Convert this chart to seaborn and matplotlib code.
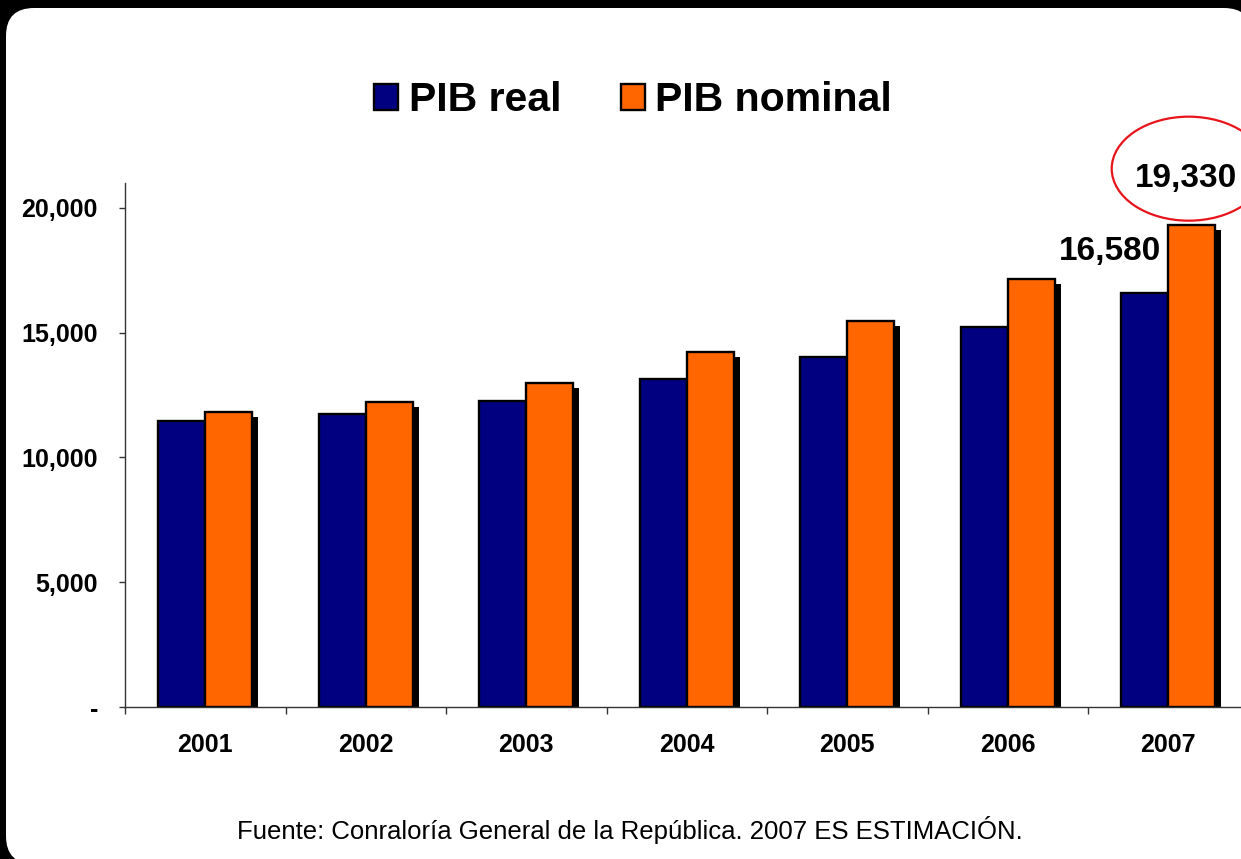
import numpy as np
import pandas as pd
import matplotlib
matplotlib.use('Agg')
import matplotlib.pyplot as plt
import seaborn as sns
from matplotlib.patches import FancyBboxPatch, Ellipse, Rectangle, Patch
from matplotlib.transforms import IdentityTransform, offset_copy

# data
years = ['2001', '2002', '2003', '2004', '2005', '2006', '2007']
pib_real = [11450, 11740, 12250, 13130, 14020, 15220, 16580]
pib_nominal = [11830, 12220, 12970, 14230, 15470, 17150, 19330]
series = ['PIB real', 'PIB nominal']
colors = ['#000080', '#FF6600']
y_ticks = [0, 5000, 10000, 15000, 20000]
y_tick_labels = ['-', '5,000', '10,000', '15,000', '20,000']
footer = 'Fuente: Conraloría General de la República. 2007 ES ESTIMACIÓN.'

df = pd.DataFrame({
    'year': years * 2,
    'value': pib_real + pib_nominal,
    'serie': [series[0]] * len(years) + [series[1]] * len(years),
})

sns.set_theme(style='white')
plt.rcParams['font.family'] = ['Liberation Sans', 'DejaVu Sans']
plt.rcParams['text.color'] = 'black'
plt.rcParams['xtick.color'] = 'black'
plt.rcParams['ytick.color'] = 'black'

W, H = 1241, 859
fig = plt.figure(figsize=(W / 100, H / 100), dpi=100, facecolor='black')

# white rounded panel on black background
panel = FancyBboxPatch((6, -5), 1246, 856, boxstyle='round,pad=0,rounding_size=28',
                       transform=IdentityTransform(), fc='white', ec='none', zorder=-5)
fig.add_artist(panel)

ax = fig.add_axes([125 / W, 152 / H, 1123.5 / W, 524 / H])
ax.set_facecolor('white')

sns.barplot(data=df, x='year', y='value', hue='serie', palette=colors, width=0.585,
            saturation=1, edgecolor='black', linewidth=1.7, ax=ax)
ax.get_legend().remove()

ax.set_xlim(-0.5, 6.5)
ax.set_ylim(0, 21000)

# drop shadows behind each bar
shadow_tr = offset_copy(ax.transData, fig=fig, x=6, y=-5, units='dots')
for cont in ax.containers:
    for bar in cont:
        sh = Rectangle((bar.get_x(), bar.get_y()), bar.get_width(), bar.get_height(),
                       transform=shadow_tr, fc='black', ec='none', zorder=0.5)
        ax.add_artist(sh)

for s in ['top', 'right']:
    ax.spines[s].set_visible(False)
for s in ['left', 'bottom']:
    ax.spines[s].set_color('#333333')
    ax.spines[s].set_linewidth(1)

ax.set_yticks(y_ticks)
ax.set_yticklabels(y_tick_labels)
ax.set_xticks(np.arange(-0.5, len(years)), minor=True)
ax.tick_params(axis='y', which='major', left=True, length=4.5, width=1, color='#333333',
               pad=15, labelsize=18, labelcolor='black')
ax.tick_params(axis='x', which='major', bottom=True, length=0, pad=19, labelsize=18,
               labelcolor='black')
ax.tick_params(axis='x', which='minor', bottom=True, length=5, width=1, color='#333333')
for lab in ax.get_xticklabels() + ax.get_yticklabels():
    lab.set_fontweight('bold')
ax.set_xlabel('')
ax.set_ylabel('')

# value labels for 2007
real_bar = ax.containers[0][-1]
nom_bar = ax.containers[1][-1]
ax.annotate(f'{pib_real[-1]:,}', xy=(real_bar.get_x() + real_bar.get_width(), pib_real[-1]),
            xytext=(-7, 42), textcoords='offset pixels', ha='right', va='center',
            fontsize=24, fontweight='bold', color='black', annotation_clip=False)
nx = nom_bar.get_x() + nom_bar.get_width() / 2
ax.annotate(f'{pib_nominal[-1]:,}', xy=(nx, pib_nominal[-1]),
            xytext=(-6, 46), textcoords='offset pixels', ha='center', va='center',
            fontsize=24, fontweight='bold', color='black', annotation_clip=False)

px, py = ax.transData.transform((nx, pib_nominal[-1]))
ring = Ellipse((px - 3, py + 56), 154, 104, transform=IdentityTransform(),
               fill=False, ec='#E8141B', lw=1.6, zorder=5)
fig.add_artist(ring)

handles = [Patch(facecolor=c, edgecolor='black', linewidth=1.7) for c in colors]
fig.legend(handles, series, loc='center', bbox_to_anchor=(633 / W, 1 - 100 / H), ncol=2,
           frameon=False, prop=dict(weight='bold', size=29.5), handlelength=0.6,
           handleheight=0.6, handletextpad=0.25, columnspacing=1.45, labelcolor='black')

fig.text(630 / W, 1 - 830 / H, footer, ha='center', va='center', fontsize=18.5,
         color='black')

fig.savefig('out.png', dpi=100, facecolor=fig.get_facecolor())
